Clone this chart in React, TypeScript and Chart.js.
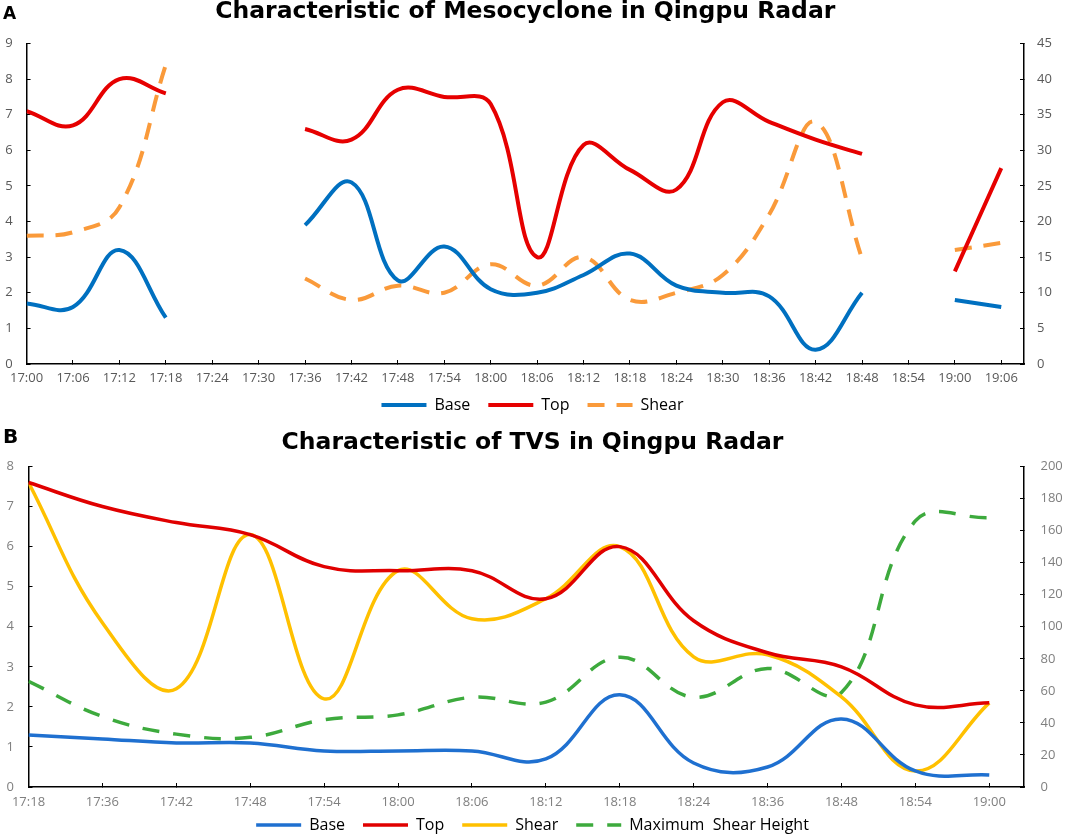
import React, { useRef, useEffect } from "react";
import { Chart, registerables } from "chart.js";

Chart.register(...registerables);

// ---- Panel A: mesocyclone (null = not detected at that scan) ----
const timesA = [
	"17:00", "17:06", "17:12", "17:18", "17:24", "17:30", "17:36", "17:42",
	"17:48", "17:54", "18:00", "18:06", "18:12", "18:18", "18:24", "18:30",
	"18:36", "18:42", "18:48", "18:54", "19:00", "19:06",
];
const baseA = [1.7, 1.6, 3.2, 1.3, null, null, 3.9, 5.1, 2.35, 3.3, 2.1, 2.0, 2.5, 3.1, 2.2, 2.0, 1.9, 0.4, 2.0, null, 1.8, 1.6];
const topA = [7.1, 6.7, 8.0, 7.6, null, null, 6.6, 6.3, 7.7, 7.5, 7.3, 3.0, 6.15, 5.45, 4.9, 7.35, 6.8, 6.3, 5.9, null, 2.6, 5.5];
const shearA = [18, 18.5, 22, 42, null, null, 12, 9, 11, 10, 14, 11, 15, 9, 10, 12.5, 21, 34, 14.8, null, 16, 17];

// ---- Panel B: TVS ----
const timesB = [
	"17:18", "17:36", "17:42", "17:48", "17:54", "18:00", "18:06",
	"18:12", "18:18", "18:24", "18:36", "18:48", "18:54", "19:00",
];
const baseB = [1.3, 1.2, 1.1, 1.1, 0.9, 0.9, 0.9, 0.7, 2.3, 0.6, 0.5, 1.7, 0.4, 0.3];
const topB = [7.6, 7.0, 6.6, 6.3, 5.5, 5.4, 5.4, 4.7, 6.0, 4.15, 3.35, 3.0, 2.05, 2.1];
const shearB = [7.6, 4.1, 2.45, 6.3, 2.2, 5.4, 4.2, 4.7, 6.0, 3.25, 3.3, 2.25, 0.4, 2.1];
const maxShearB = [66, 44, 33, 31, 42, 45, 56, 53, 81, 56, 74, 59, 166, 168];

type AxisId = "yLeft" | "yRight";

interface Series {
	label: string;
	data: (number | null)[];
	color: string;
	axis: AxisId;
	width: number;
	dash?: number[];
}

interface Geometry {
	leftWidth: number;
	rightWidth: number;
	xHeight: number;
	xPad: number;
	leftPad: number;
	rightPad: number;
	legendLift: number;
	overhang: number; // axis runs on a bit past the last time
	titlePad: { top: number; bottom: number };
	titleFull: boolean;
	tickColor: string;
	labelFont: string;
	labelY: number;
}

interface PanelProps {
	panel: string;
	title: string;
	times: string[];
	series: Series[];
	leftMax: number;
	leftStep: number;
	rightMax: number;
	rightStep: number;
	geometry: Geometry;
}

// draws the "A" / "B" panel letter in the top-left corner
const panelLabel = {
	id: "panelLabel",
	afterDraw(chart: any, _args: any, opts: any) {
		const { ctx } = chart;
		ctx.save();
		ctx.font = opts.font;
		ctx.fillStyle = "#000";
		ctx.textBaseline = "alphabetic";
		ctx.fillText(opts.text, opts.x, opts.y);
		ctx.restore();
	},
};

// pulls the legend up a little; the axis box has to stay tall enough not to clip its labels
const legendLift = {
	id: "legendLift",
	afterLayout(chart: any, _args: any, opts: any) {
		const lg = chart.legend;
		if (lg && opts.dy) {
			lg.top -= opts.dy;
			lg.bottom -= opts.dy;
		}
	},
};

const RadarPanel: React.FC<PanelProps> = (p) => {
	const chartRef = useRef<HTMLCanvasElement | null>(null);
	const chartInstance = useRef<Chart | null>(null);

	useEffect(() => {
		if (chartInstance.current) {
			chartInstance.current.destroy();
			chartInstance.current = null;
		}
		if (!chartRef.current) return;

		const g = p.geometry;
		const tickFont = { family: "'Open Sans', sans-serif", size: 13 };
		const border = { color: "#000", width: 1.5 };
		// ticks point inwards, like the Excel original
		const grid = { drawOnChartArea: false, color: "#000", lineWidth: 1, tickLength: -4 };

		chartInstance.current = new Chart(chartRef.current, {
			type: "line",
			data: {
				datasets: p.series.map((s) => ({
					label: s.label,
					data: s.data.map((y, i) => ({ x: i, y })),
					yAxisID: s.axis,
					borderColor: s.color,
					backgroundColor: s.color,
					borderWidth: s.width,
					borderDash: s.dash || [],
					pointRadius: 0,
					pointHoverRadius: 0,
					tension: 0.4,
					fill: false,
					spanGaps: false,
				})),
			},
			options: {
				animation: false,
				responsive: true,
				maintainAspectRatio: false,
				layout: { padding: 0 },
				scales: {
					x: {
						type: "linear",
						min: 0,
						max: p.times.length - 1 + g.overhang,
						afterBuildTicks: (scale: any) => {
							scale.ticks = p.times.map((_, i) => ({ value: i }));
						},
						afterFit: (scale: any) => {
							scale.height = g.xHeight;
						},
						ticks: {
							callback: (v: any) => p.times[v],
							autoSkip: false,
							maxRotation: 0,
							padding: g.xPad,
							color: g.tickColor,
							font: tickFont,
						},
						grid,
						border,
					},
					yLeft: {
						type: "linear",
						position: "left",
						min: 0,
						max: p.leftMax,
						afterFit: (scale: any) => {
							scale.width = g.leftWidth;
						},
						ticks: { stepSize: p.leftStep, padding: g.leftPad, color: g.tickColor, font: tickFont },
						grid,
						border,
					},
					yRight: {
						type: "linear",
						position: "right",
						min: 0,
						max: p.rightMax,
						afterFit: (scale: any) => {
							scale.width = g.rightWidth;
						},
						ticks: { stepSize: p.rightStep, padding: g.rightPad, color: g.tickColor, font: tickFont },
						grid,
						border,
					},
				},
				plugins: {
					title: {
						display: true,
						text: p.title,
						color: "#000",
						fullSize: g.titleFull,
						font: { family: "'DejaVu Sans', sans-serif", size: 23.5, weight: "bold", lineHeight: 1 },
						padding: g.titlePad,
					},
					legend: {
						position: "bottom",
						labels: {
							usePointStyle: true,
							pointStyle: "line",
							pointStyleWidth: 45,
							padding: 18,
							color: "#000",
							font: { family: "'Open Sans', sans-serif", size: 16 },
							generateLabels: (chart: any) => {
								const items = Chart.defaults.plugins.legend.labels.generateLabels(chart);
								items.forEach((it: any) => {
									const ds: any = chart.data.datasets[it.datasetIndex];
									it.lineDash = ds.borderDash;
									it.lineWidth = ds.borderWidth;
								});
								return items;
							},
						},
					},
					tooltip: { enabled: false },
					panelLabel: { text: p.panel, x: 3, y: g.labelY, font: g.labelFont },
					legendLift: { dy: g.legendLift },
				},
			} as any,
			plugins: [panelLabel, legendLift],
		});

		return () => {
			if (chartInstance.current) {
				chartInstance.current.destroy();
				chartInstance.current = null;
			}
		};
	}, [p]);

	return <canvas ref={chartRef}></canvas>;
};

const geometryA: Geometry = {
	leftWidth: 22.5,
	rightWidth: 41,
	xHeight: 21,
	xPad: 10,
	leftPad: 18,
	rightPad: 17,
	legendLift: 6,
	overhang: 0.49,
	titlePad: { top: 0.5, bottom: 19.5 },
	titleFull: false,
	tickColor: "#595959",
	labelFont: "bold 17px 'DejaVu Sans'",
	labelY: 19,
};

const geometryB: Geometry = {
	leftWidth: 28.5,
	rightWidth: 41,
	xHeight: 21,
	xPad: 11,
	leftPad: 18.5,
	rightPad: 20.5,
	legendLift: 9,
	overhang: 0.47,
	titlePad: { top: 11.5, bottom: 11.5 },
	titleFull: true,
	tickColor: "#7f7f7f",
	labelFont: "bold 20px 'DejaVu Sans'",
	labelY: 23,
};

const seriesA: Series[] = [
	{ label: "Base", data: baseA, color: "#0070C0", axis: "yLeft", width: 4 },
	{ label: "Top", data: topA, color: "#E60000", axis: "yLeft", width: 4 },
	{ label: "Shear", data: shearA, color: "#FA9A3A", axis: "yRight", width: 4, dash: [17, 12] },
];

const seriesB: Series[] = [
	{ label: "Base", data: baseB, color: "#1F70D0", axis: "yLeft", width: 3.5 },
	{ label: "Top", data: topB, color: "#E00000", axis: "yLeft", width: 3.5 },
	{ label: "Shear", data: shearB, color: "#FFC000", axis: "yLeft", width: 3.5 },
	{ label: "Maximum  Shear Height", data: maxShearB, color: "#3DAA3D", axis: "yRight", width: 3.5, dash: [17, 14] },
];

export default function App() {
	return (
		<div style={{ position: "fixed", left: 0, top: 0, width: 1065, height: 835, overflow: "hidden", background: "#fff" }}>
			<div style={{ position: "absolute", left: 0, top: 0, width: 1065, height: 429 }}>
				<RadarPanel
					panel="A"
					title="Characteristic of Mesocyclone in Qingpu Radar"
					times={timesA}
					series={seriesA}
					leftMax={9}
					leftStep={1}
					rightMax={45}
					rightStep={5}
					geometry={geometryA}
				/>
			</div>
			<div style={{ position: "absolute", left: 0, top: 420, width: 1065, height: 432 }}>
				<RadarPanel
					panel="B"
					title="Characteristic of TVS in Qingpu Radar"
					times={timesB}
					series={seriesB}
					leftMax={8}
					leftStep={1}
					rightMax={200}
					rightStep={20}
					geometry={geometryB}
				/>
			</div>
		</div>
	);
}
